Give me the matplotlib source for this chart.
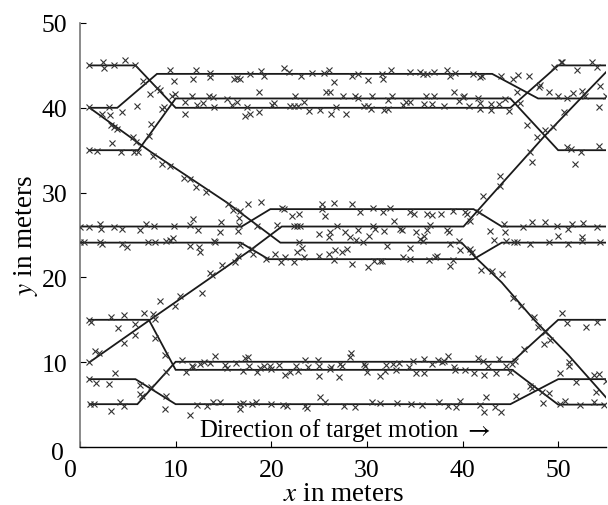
"""Multi-target tracks with measurements (x in meters vs y in meters)"""

import matplotlib
matplotlib.use("Agg")
import matplotlib.pyplot as plt
import matplotlib.transforms as mtransforms

plt.rcParams["font.family"] = ["Liberation Serif", "DejaVu Serif"]
plt.rcParams["mathtext.fontset"] = "stix"

# ground-truth target tracks (vertices)
t1_x = [1, 5.8, 10, 45, 50, 55]
t1_y = [45, 45, 40, 40, 45, 45]
t2_x = [1, 3.9, 8.05, 43.1, 47.9, 55]
t2_y = [40, 40, 44, 44, 41.1, 41.1]
t3_x = [1, 6.1, 10, 45, 50, 55]
t3_y = [35, 35, 41.1, 41.1, 35, 35]
m1_x = [0, 16.9, 19.9, 41.15, 44.1, 55]
m1_y = [26, 26, 28.05, 28.05, 26, 26]
m2_x = [0, 16.8, 19.7, 41.15, 44.1, 55]
m2_y = [24.1, 24.1, 22.15, 22.15, 24.1, 24.1]
dn_x = [1, 7.4, 15.4, 20.95, 39.9, 41.5, 44.1, 47.4, 51.1, 55]
dn_y = [40, 34.8, 28.8, 24.1, 24.1, 22.2, 19.4, 15.1, 10.8, 5.85]
up_x = [1, 7.2, 17.8, 21.1, 40.1, 43.9, 48.6, 52.6, 55]
up_y = [10, 14.9, 23.2, 26, 26, 30.8, 36.7, 41.4, 44.2]
b1_x = [1, 7.2, 10, 45.2, 50, 55]
b1_y = [15, 15, 9.1, 9.1, 5, 5]
b2_x = [1, 5.8, 10, 45, 50, 55]
b2_y = [8, 8, 5.05, 5.05, 8, 8]
b3_x = [1, 6.0, 10, 45.2, 50, 55]
b3_y = [5.05, 5.05, 10.05, 10.05, 15, 15]

tracks = [(t1_x, t1_y), (t2_x, t2_y), (t3_x, t3_y), (m1_x, m1_y), (m2_x, m2_y),
          (dn_x, dn_y), (up_x, up_y), (b1_x, b1_y), (b2_x, b2_y), (b3_x, b3_y)]

# measurements, upper group (y > ~29)
meas_upper = [
    (0.92, 45.05), (2.39, 45.44), (2.49, 44.65), (3.54, 45.05), (4.69, 45.68), (5.80, 45.05),
    (6.60, 43.2), (7.30, 41.6), (8.07, 42.3), (8.41, 42.1), (9.46, 44.4), (9.81, 43.2),
    (9.98, 41.6), (9.63, 41.35), (12.18, 44.4), (11.83, 43.4), (13.57, 44.1), (13.64, 43.67),
    (16.08, 43.4), (16.43, 43.5), (16.78, 43.4), (17.82, 44.0), (18.94, 44.3), (19.29, 43.8),
    (18.7, 41.9), (21.3, 44.65), (21.83, 44.26), (23.12, 43.8), (24.27, 44.1), (25.49, 44.1),
    (26.01, 44.4), (26.6, 43.1), (25.77, 41.9), (26.11, 41.9),
    (11.03, 39.27), (11.03, 40.72), (11.72, 41.43), (12.25, 40.33), (12.87, 40.57),
    (13.47, 41.35), (13.92, 41.23), (14.06, 40.06), (15.38, 41.04), (15.9, 40.33),
    (16.43, 40.64), (17.47, 40.06), (17.3, 38.99), (17.82, 39.27), (18.7, 39.47),
    (20.26, 40.57), (20.09, 40.33), (22.53, 41.43), (22.0, 40.17), (22.35, 40.17),
    (22.77, 40.17), (23.4, 40.64), (23.92, 39.66), (25.14, 39.74), (26.25, 39.27), (26.74, 40.06),
    (0.92, 40.06), (2.32, 39.27), (3.12, 39.15), (3.01, 40.06), (4.41, 39.47), (5.98, 40.17),
    (0.92, 35.06), (1.79, 34.94), (3.36, 35.8), (4.3, 34.75), (5.63, 34.83), (6.05, 34.83),
    (5.9, 36.0), (3.19, 37.97), (3.54, 37.7), (3.89, 37.5), (5.56, 36.5), (7.2, 36.7),
    (7.44, 38.1), (8.59, 39.86), (8.76, 40.06), (7.65, 34.35), (8.59, 33.37), (9.46, 33.18),
    (10.92, 31.68), (11.48, 31.6), (12.18, 30.7), (13.22, 30.03),
    (28.44, 43.71), (29.03, 43.99), (30.07, 43.28), (31.58, 43.99), (31.68, 43.4),
    (32.51, 44.46), (34.52, 44.18), (35.51, 44.18), (35.86, 43.99), (36.28, 43.99),
    (36.97, 44.18), (38.37, 44.46), (38.65, 43.71), (39.23, 44.1), (41.08, 43.99),
    (41.85, 43.59), (42.03, 43.71), (44.0, 43.71), (45.26, 43.4), (45.85, 43.87), (46.9, 43.71),
    (27.5, 41.43), (28.79, 41.43), (29.03, 41.12), (29.66, 40.25), (30.07, 40.17),
    (30.53, 41.43), (30.42, 39.86), (31.75, 39.78), (32.17, 39.86), (32.62, 41.43),
    (32.17, 40.96), (33.82, 40.33), (34.1, 40.64), (34.46, 40.64), (35.93, 40.45),
    (36.21, 41.43), (36.97, 41.43), (36.8, 40.45), (38.02, 40.25), (39.12, 41.82),
    (39.58, 40.84), (40.03, 41.23), (40.1, 41.35), (40.63, 40.17), (41.57, 41.12),
    (41.78, 40.57), (41.85, 39.86), (42.97, 40.45), (42.97, 39.74), (43.76, 40.45),
    (44.46, 41.04), (44.9, 39.66), (46.03, 40.57), (45.68, 41.82), (46.72, 37.97),
    (47.77, 36.52), (47.95, 42.41), (48.12, 42.69), (48.99, 41.82), (50.03, 41.43),
    (50.91, 41.12), (51.6, 41.75), (52.47, 42.02), (52.82, 41.35), (54.22, 40.06),
    (55.01, 41.35), (27.85, 39.27),
    (48.64, 37.42), (49.51, 37.78), (50.56, 39.54), (50.91, 35.34), (51.32, 35.14),
    (52.37, 34.83), (54.32, 35.53), (51.78, 33.37), (49.58, 44.77), (50.28, 45.44),
    (50.38, 45.36), (51.95, 44.46), (53.52, 45.36), (54.04, 44.77), (54.39, 42.53),
    (42.13, 29.56), (43.94, 32.0), (43.87, 30.82), (47.07, 34.75), (47.25, 33.57),
]

# measurements, middle group (~18 < y < ~29)
meas_middle = [
    (0.05, 25.98), (0.92, 25.98), (2.07, 26.3), (2.21, 25.7), (3.54, 25.98), (4.41, 25.7),
    (6.26, 25.63), (6.85, 26.3), (7.72, 26.1),
    (0.05, 24.13), (0.4, 24.2), (2.07, 24.13), (2.32, 23.94), (4.41, 23.94), (4.93, 23.55),
    (7.09, 24.2),
    (15.45, 28.66), (16.0, 27.99), (16.7, 27.87), (17.54, 28.66), (18.93, 28.85), (16.6, 26.97),
    (9.87, 26.02), (11.48, 26.18), (11.83, 26.89), (12.35, 25.63), (14.79, 26.57),
    (14.68, 25.31), (16.6, 26.18), (16.49, 25.51), (18.5, 26.02), (20.6, 26.18),
    (21.12, 28.14), (21.3, 28.07), (22.17, 27.2), (22.87, 27.48), (25.3, 28.66),
    (25.65, 27.2), (26.52, 28.77), (25.3, 28.07),
    (22.41, 26.02), (22.69, 26.02), (22.97, 26.02), (24.95, 25.12), (26.18, 25.39),
    (26.0, 24.72), (26.87, 26.02), (27.74, 25.31), (28.26, 24.72),
    (7.89, 24.21), (9.04, 24.33), (9.45, 24.45), (9.73, 24.6), (13.98, 24.33), (14.16, 24.21),
    (11.48, 23.66), (12.42, 23.55), (12.59, 22.96), (16.7, 23.82), (17.99, 23.35),
    (18.09, 22.76), (16.49, 22.48), (16.25, 21.78), (14.85, 21.46), (13.64, 20.52), (13.81, 20.28),
    (19.49, 22.17), (20.43, 22.76), (21.47, 22.37), (21.02, 21.78), (22.41, 21.78),
    (22.69, 23.03), (23.22, 23.51), (23.46, 22.37), (22.87, 24.21), (24.95, 22.48),
    (26.0, 22.76), (26.7, 23.27), (27.39, 22.96), (26.52, 22.09), (27.92, 23.35),
    (28.44, 28.66), (29.3, 27.67), (30.63, 28.14), (31.68, 27.75), (32.38, 28.18),
    (32.8, 26.69), (34.46, 27.67), (34.95, 27.48), (36.28, 27.48), (36.8, 27.36),
    (37.74, 27.48), (39.05, 27.87), (40.28, 27.75), (40.46, 27.48), (40.74, 26.69), (41.68, 27.67),
    (28.9, 24.45), (29.59, 24.13), (29.03, 25.63), (30.25, 24.92), (30.63, 26.1),
    (30.87, 25.71), (31.75, 25.51), (33.5, 25.71), (33.67, 25.59), (35.15, 25.31),
    (35.58, 24.53), (35.99, 24.92), (35.86, 24.33), (36.28, 25.63), (36.55, 26.18),
    (38.37, 25.63), (38.55, 25.31),
    (32.1, 23.66), (34.46, 23.47), (38.65, 23.94), (39.58, 24.33), (39.69, 23.23),
    (40.81, 23.35), (40.98, 22.96),
    (28.44, 21.58), (30.07, 21.19), (30.77, 21.97), (31.33, 21.97), (31.58, 21.97),
    (33.82, 22.37), (34.52, 22.17), (36.45, 22.09), (37.15, 22.37), (37.32, 22.48),
    (38.65, 21.38), (39.05, 22.09),
    (42.9, 25.51), (43.24, 24.45), (44.3, 26.3), (44.46, 25.39), (46.3, 25.9),
    (44.53, 24.33), (45.38, 24.13), (45.73, 24.13), (41.92, 20.91), (43.07, 20.79), (44.11, 20.4),
    (47.25, 26.57), (48.64, 26.57), (49.86, 26.1), (51.07, 25.71), (51.42, 26.3),
    (52.64, 26.42), (54.04, 25.9), (49.93, 24.92), (52.47, 24.72), (52.47, 24.33),
    (47.07, 23.94), (48.99, 24.14), (50.98, 23.94), (54.39, 24.14),
]

# measurements, lower group (y < ~18)
meas_lower = [
    (0.92, 15.02), (1.1, 14.78), (3.26, 15.29), (4.65, 15.57), (6.67, 15.76), (7.65, 15.68),
    (7.89, 15.09), (3.95, 13.99), (5.8, 14.5), (5.7, 13.2), (4.58, 12.26), (1.62, 11.36),
    (1.97, 11.08), (0.92, 10.06), (8.34, 17.26), (9.91, 16.67), (10.5, 17.85), (12.77, 18.16),
    (7.89, 12.81), (8.93, 10.85), (9.04, 8.88),
    (0.92, 8.02), (1.72, 7.55), (3.01, 7.43), (3.64, 8.73), (6.25, 7.31), (6.32, 6.25),
    (6.5, 6.05), (7.44, 7.04), (1.03, 5.07), (1.45, 5.07), (3.29, 4.21), (4.16, 5.35),
    (4.65, 4.8), (8.93, 4.48), (9.04, 6.05),
    (11.48, 3.81), (12.24, 4.95), (13.29, 4.87), (13.91, 5.35), (14.68, 5.27), (16.77, 5.07),
    (16.77, 4.48), (17.05, 5.19), (17.99, 5.07), (18.44, 5.27), (19.97, 5.07), (21.23, 4.95),
    (21.65, 4.8), (23.56, 4.87), (23.74, 4.56), (25.06, 5.86), (25.65, 5.35),
    (10.68, 10.3), (11.13, 8.88), (11.72, 9.59), (11.82, 9.39), (12.59, 9.79), (13.01, 10.06),
    (13.57, 9.91), (14.16, 10.77), (15.2, 9.67), (15.38, 9.28), (16.35, 9.91), (17.29, 10.46),
    (17.54, 10.57), (17.64, 9.51), (17.05, 9.0), (18.51, 8.88), (18.86, 9.28), (19.28, 9.51),
    (19.84, 9.51), (19.97, 9.2), (20.77, 9.67), (21.47, 8.49), (21.93, 8.88), (22.62, 9.59),
    (22.76, 9.0), (23.56, 10.3), (23.81, 9.39), (24.86, 10.3), (24.96, 9.51), (24.96, 8.41),
    (26.1, 9.2), (26.25, 9.39), (27.15, 9.79),
    (27.05, 8.22), (27.39, 9.59), (28.33, 11.08), (28.26, 10.57), (29.66, 9.79), (29.83, 9.51),
    (30.0, 8.88), (31.33, 8.41), (31.92, 9.0), (32.03, 9.67), (32.72, 9.79), (33.07, 9.12),
    (33.31, 9.91), (34.35, 9.39), (34.81, 10.18), (35.15, 8.73), (35.99, 8.73), (35.93, 10.38),
    (36.8, 9.79), (37.39, 10.3), (37.84, 10.06), (38.02, 10.18), (38.44, 10.69), (39.12, 9.39),
    (39.23, 9.12), (40.28, 9.12), (41.22, 8.73), (41.57, 10.46), (42.13, 10.18), (42.2, 8.49),
    (42.62, 9.51), (43.52, 8.73), (43.76, 10.38), (44.56, 9.51), (44.98, 8.81), (45.16, 9.79),
    (27.57, 4.87), (28.79, 4.68), (30.53, 5.27), (31.4, 5.19), (33.14, 5.19), (34.6, 5.07),
    (35.75, 4.95), (37.49, 5.27), (38.44, 4.87), (39.34, 4.68), (39.76, 5.46), (41.78, 4.95),
    (42.27, 4.17), (42.48, 5.86), (43.42, 4.68), (44.0, 4.17),
    (45.26, 17.53), (46.1, 16.59), (47.49, 15.29), (47.94, 14.11), (48.64, 13.6),
    (48.47, 12.15), (49.17, 12.66), (46.38, 11.56), (45.5, 10.18), (50.38, 15.8),
    (50.97, 14.62), (52.92, 14.11), (54.04, 14.78), (51.08, 9.98), (51.18, 9.51),
    (50.21, 8.73), (51.88, 7.7), (53.7, 8.49), (54.32, 8.61), (55.0, 7.82), (53.97, 6.53),
    (45.61, 5.97), (47.07, 7.23), (47.25, 6.92), (48.29, 6.53), (48.99, 6.37), (48.4, 5.19),
    (50.21, 5.07), (50.74, 5.46), (52.3, 4.95), (53.7, 5.35), (54.8, 4.95),
]

x_ticks = [0, 10, 20, 30, 40, 50]
y_ticks = [0, 10, 20, 30, 40, 50]

fig = plt.figure(figsize=(6.08, 5.06), dpi=100)
ax = fig.add_axes([80 / 608, 58 / 506, 526 / 608, 424 / 506])

for tx, ty in tracks:
    ax.plot(tx, ty, color="#1a1a1a", linewidth=1.3, solid_joinstyle="miter", zorder=2)

for group in (meas_upper, meas_middle, meas_lower):
    mx = [p[0] for p in group]
    my = [p[1] for p in group]
    ax.plot(mx, my, linestyle="none", marker="x", markersize=4.5,
            markeredgewidth=0.8, color="#333333", zorder=3)

ax.set_xlim(0, 55)
ax.set_ylim(0, 50)
ax.set_xticks(x_ticks)
ax.set_yticks(y_ticks)
ax.tick_params(direction="in", length=4, width=0.8, labelsize=18.5, pad=9)
ax.spines["top"].set_visible(False)
ax.spines["right"].set_visible(False)
ax.spines["left"].set_color("#777777")
ax.spines["left"].set_linewidth(1.2)
ax.spines["bottom"].set_linewidth(1.0)

# the two zero labels are nudged apart as in the source
fig.canvas.draw()
xl0 = ax.get_xticklabels()[0]
xl0.set_transform(xl0.get_transform() + mtransforms.ScaledTranslation(-10 / 100, 0, fig.dpi_scale_trans))
yl0 = ax.get_yticklabels()[0]
yl0.set_transform(yl0.get_transform() + mtransforms.ScaledTranslation(-4 / 100, -4 / 100, fig.dpi_scale_trans))

ax.set_xlabel(r"$x$ in meters", fontsize=19.5, labelpad=0)
ax.set_ylabel(r"$y$ in meters", fontsize=19.5, labelpad=1)

ax.text(12.4, 1.35, r"Direction of target motion $\rightarrow$", fontsize=17.8,
        ha="left", va="baseline", zorder=4)

fig.savefig("out.png", dpi=100)
